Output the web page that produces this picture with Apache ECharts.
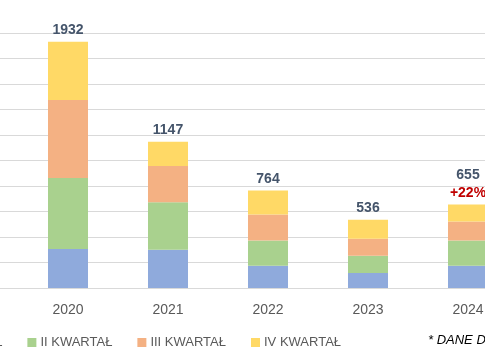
<!DOCTYPE html>
<html>
<head>
<meta charset="utf-8">
<script src="https://cdn.jsdelivr.net/npm/echarts@6/dist/echarts.min.js"></script>
<style>
html,body{margin:0;padding:0;background:#fff;}
#c{width:485px;height:360px;}
</style>
</head>
<body>
<div id="c"></div>
<script>
const categories = ['2020', '2021', '2022', '2023', '2024'];
const seriesNames = ['I KWARTAŁ', 'II KWARTAŁ', 'III KWARTAŁ', 'IV KWARTAŁ'];
const q1 = [306, 300, 175, 118, 175];
const q2 = [557, 372, 197, 134, 197];
const q3 = [612, 285, 204, 134, 150];
const q4 = [457, 190, 188, 150, 133];
const totals = [1932, 1147, 764, 536, 655];
const changeNotes = ['', '', '', '', '+22%'];
const yTicks = {min: 0, max: 2000, interval: 200};
const footnote = '* DANE DLA 2024 R.';

const colors = ['#8faadc', '#a9d18e', '#f4b183', '#ffd966'];
const values = [q1, q2, q3, q4];
const font = 'Liberation Sans, Arial, sans-serif';

const series = values.map((v, i) => ({
  name: seriesNames[i],
  type: 'bar',
  stack: 'total',
  barWidth: 40,
  xAxisIndex: 1,
  yAxisIndex: 1,
  data: v,
  itemStyle: {color: colors[i]},
  label: i === 3 ? {
    show: true,
    position: 'top',
    distance: 2,
    fontFamily: font,
    formatter: p => {
      const n = changeNotes[p.dataIndex];
      return n ? '{t|' + totals[p.dataIndex] + '}\n{r|' + n + '}' : '{t|' + totals[p.dataIndex] + '}';
    },
    rich: {
      t: {fontSize: 14, fontWeight: 'bold', color: '#44546a', fontFamily: font, lineHeight: 19},
      r: {fontSize: 14, fontWeight: 'bold', color: '#c00000', fontFamily: font, lineHeight: 18}
    }
  } : {show: false}
}));

const chart = echarts.init(document.getElementById('c'), null, {renderer: 'canvas'});
chart.setOption({
  animation: false,
  backgroundColor: '#ffffff',
  grid: [
    {left: 0, right: 0, top: 33, bottom: 72, containLabel: false, outerBoundsMode: 'none'},
    {left: 18, right: -33, top: 33, bottom: 72, containLabel: false, outerBoundsMode: 'none'}
  ],
  xAxis: [{
    type: 'value', gridIndex: 0, min: 0, max: 1,
    axisLine: {show: true, onZero: false, lineStyle: {color: '#d9d9d9', width: 1}},
    axisTick: {show: false}, axisLabel: {show: false}, splitLine: {show: false}
  }, {
    type: 'category',
    gridIndex: 1,
    data: categories,
    axisLine: {show: false},
    axisTick: {show: false},
    axisLabel: {color: '#595959', fontSize: 14, fontFamily: font, margin: 15}
  }],
  yAxis: [{
    type: 'value', gridIndex: 0,
    min: yTicks.min, max: yTicks.max, interval: yTicks.interval,
    axisLabel: {show: false},
    axisLine: {show: false},
    axisTick: {show: false},
    splitLine: {lineStyle: {color: '#d9d9d9', width: 1}}
  }, {
    type: 'value', gridIndex: 1,
    min: yTicks.min, max: yTicks.max, interval: yTicks.interval,
    axisLabel: {show: false},
    axisLine: {show: false},
    axisTick: {show: false},
    splitLine: {show: false}
  }],
  legend: {
    left: -84,
    top: 331,
    itemWidth: 9,
    itemHeight: 9,
    itemGap: 25,
    icon: 'rect',
    textStyle: {color: '#595959', fontSize: 13, fontFamily: font, padding: [0, 0, 0, -1]},
    data: seriesNames
  },
  graphic: [{
    type: 'text',
    left: 428,
    top: 334,
    style: {text: footnote, fill: '#000000', font: 'italic 13px ' + font}
  }],
  series: series
});
</script>
</body>
</html>
